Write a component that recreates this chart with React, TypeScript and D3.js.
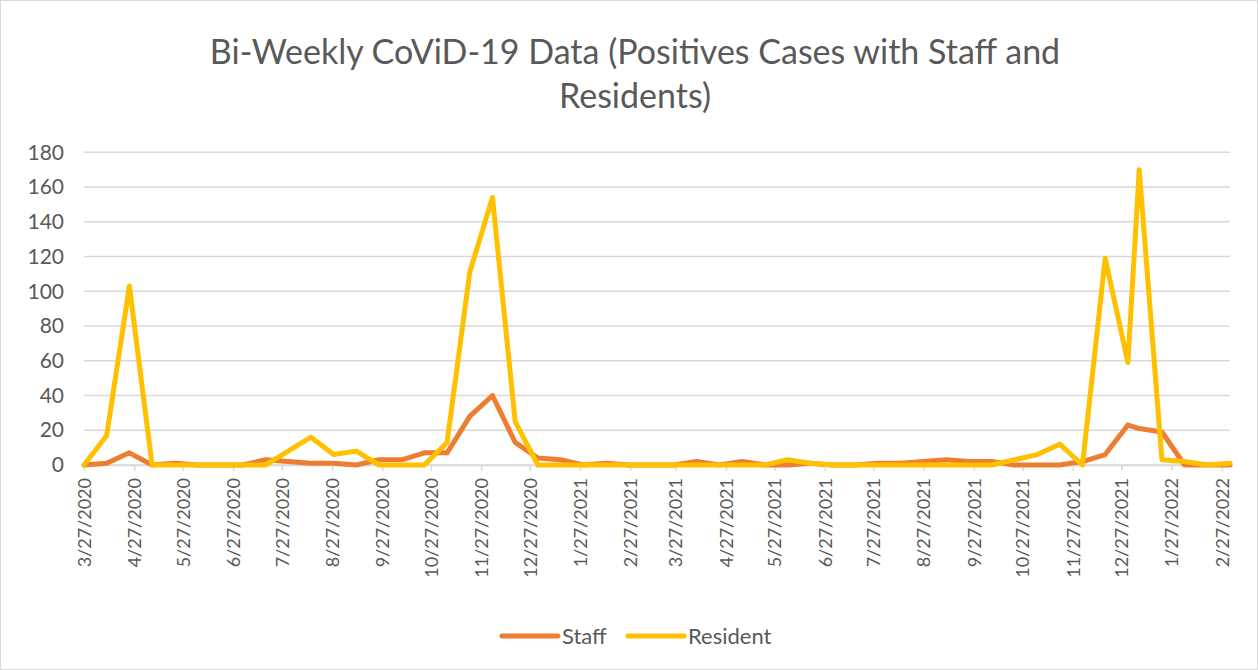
import React, { useEffect, useRef } from 'react';
import * as d3 from 'd3';

// bi-weekly report dates (one extra weekly report in Jan 2022)
const reportDates = [
  "3/27/2020", "4/10/2020", "4/24/2020", "5/8/2020", "5/22/2020", "6/5/2020", "6/19/2020",
  "7/3/2020", "7/17/2020", "7/31/2020", "8/14/2020", "8/28/2020", "9/11/2020", "9/25/2020",
  "10/9/2020", "10/23/2020", "11/6/2020", "11/20/2020", "12/4/2020", "12/18/2020",
  "1/1/2021", "1/15/2021", "1/29/2021", "2/12/2021", "2/26/2021", "3/12/2021", "3/26/2021",
  "4/9/2021", "4/23/2021", "5/7/2021", "5/21/2021", "6/4/2021", "6/18/2021", "7/2/2021",
  "7/16/2021", "7/30/2021", "8/13/2021", "8/27/2021", "9/10/2021", "9/24/2021", "10/8/2021",
  "10/22/2021", "11/5/2021", "11/19/2021", "12/3/2021", "12/17/2021", "12/31/2021",
  "1/7/2022", "1/21/2022", "2/4/2022", "2/18/2022", "3/4/2022"
];

const staff = [
  0, 1, 7, 0, 1, 0, 0, 0, 3, 2, 1, 1, 0, 3, 3, 7, 7, 28, 40, 13,
  4, 3, 0, 1, 0, 0, 0, 2, 0, 2, 0, 0, 1, 0, 0, 1, 1, 2, 3, 2, 2, 0, 0, 0, 2, 6, 23,
  21, 19, 0, 0, 0
];

const resident = [
  0, 17, 103, 0, 0, 0, 0, 0, 0, 8, 16, 6, 8, 0, 0, 0, 13, 111, 154, 25,
  0, 0, 0, 0, 0, 0, 0, 0, 0, 0, 0, 3, 1, 0, 0, 0, 0, 0, 0, 0, 0, 3, 6, 12, 0, 119, 59,
  170, 3, 2, 0, 1
];

// monthly axis labels
const tickLabels = [
  "3/27/2020", "4/27/2020", "5/27/2020", "6/27/2020", "7/27/2020", "8/27/2020", "9/27/2020",
  "10/27/2020", "11/27/2020", "12/27/2020", "1/27/2021", "2/27/2021", "3/27/2021", "4/27/2021",
  "5/27/2021", "6/27/2021", "7/27/2021", "8/27/2021", "9/27/2021", "10/27/2021", "11/27/2021",
  "12/27/2021", "1/27/2022", "2/27/2022"
];

const yTicks = [0, 20, 40, 60, 80, 100, 120, 140, 160, 180];

const seriesNames = ["Staff", "Resident"];
const seriesColors = ["#ED7D31", "#FFC000"];

const titleLines = ["Bi-Weekly CoViD-19 Data (Positives Cases with Staff and", "Residents)"];

const W = 1258, H = 670;
const FONT = "Lato, 'Open Sans', sans-serif";
const TEXT = "#595959";
const GRID = "#d9d9d9";

const App = () => {
  const svgRef = useRef(null);

  useEffect(() => {
    document.body.style.margin = "0";
    const svg = d3.select(svgRef.current);
    svg.selectAll("*").remove();

    const parse = d3.timeParse("%m/%d/%Y");
    const dates = reportDates.map(parse);
    const ticks = tickLabels.map(parse);

    // plot area
    const left = 84, right = 1230, top = 152.3, bottom = 465;

    const x = d3.scaleTime()
      .domain(d3.extent(dates))
      .range([left, right]);

    const y = d3.scaleLinear()
      .domain([0, 180])
      .range([bottom, top]);

    svg.append("rect")
      .attr("x", 0.5).attr("y", 0.5)
      .attr("width", W - 1).attr("height", H - 1)
      .attr("fill", "#fff")
      .attr("stroke", GRID);

    // title
    svg.append("g").selectAll("text")
      .data(titleLines)
      .join("text")
      .attr("x", 635)
      .attr("y", (d, i) => 64 + i * 44)
      .attr("text-anchor", "middle")
      .attr("font-family", FONT)
      .attr("font-size", 34)
      .attr("fill", TEXT)
      .text(d => d);

    // gridlines
    svg.append("g").selectAll("line")
      .data(yTicks)
      .join("line")
      .attr("x1", left).attr("x2", right)
      .attr("y1", d => y(d)).attr("y2", d => y(d))
      .attr("stroke", GRID)
      .attr("stroke-width", 1.5);

    // y axis labels
    const yAxis = svg.append("g")
      .attr("transform", `translate(64,0)`)
      .call(d3.axisLeft(y).tickValues(yTicks).tickSize(0).tickPadding(0));
    yAxis.select(".domain").remove();
    yAxis.selectAll("text")
      .attr("font-family", FONT)
      .attr("font-size", 21)
      .attr("fill", TEXT);

    // x axis
    const xAxis = svg.append("g")
      .attr("transform", `translate(0,${bottom})`)
      .call(d3.axisBottom(x).tickValues(ticks).tickFormat(d3.timeFormat("%-m/%-d/%Y")).tickSize(6).tickSizeOuter(0));
    xAxis.select(".domain").attr("stroke", GRID).attr("stroke-width", 1.5);
    xAxis.selectAll(".tick line").attr("stroke", GRID).attr("stroke-width", 1.5);
    xAxis.selectAll("text")
      .attr("font-family", FONT)
      .attr("font-size", 18)
      .attr("fill", TEXT)
      .attr("x", 0).attr("y", 0)
      .attr("dy", "0.35em")
      .attr("text-anchor", "end")
      .attr("transform", "translate(0,13) rotate(-90)");

    // lines
    const line = d3.line()
      .x((d, i) => x(dates[i]))
      .y(d => y(d));

    [staff, resident].forEach((values, k) => {
      svg.append("path")
        .datum(values)
        .attr("fill", "none")
        .attr("stroke", seriesColors[k])
        .attr("stroke-width", 5)
        .attr("stroke-linejoin", "round")
        .attr("stroke-linecap", "round")
        .attr("d", line);
    });

    // legend
    const legendX = [502, 628];
    const legend = svg.append("g").selectAll("g")
      .data(seriesNames)
      .join("g")
      .attr("transform", (d, i) => `translate(${legendX[i]},636)`);
    legend.append("line")
      .attr("x1", 0).attr("x2", 56)
      .attr("stroke", (d, i) => seriesColors[i])
      .attr("stroke-width", 5)
      .attr("stroke-linecap", "round");
    legend.append("text")
      .attr("x", 60)
      .attr("dy", "0.35em")
      .attr("font-family", FONT)
      .attr("font-size", 22)
      .attr("fill", TEXT)
      .text(d => d);
  }, []);

  return (
    <svg ref={svgRef} width={W} height={H} style={{ display: 'block' }} />
  );
};

export default App;
